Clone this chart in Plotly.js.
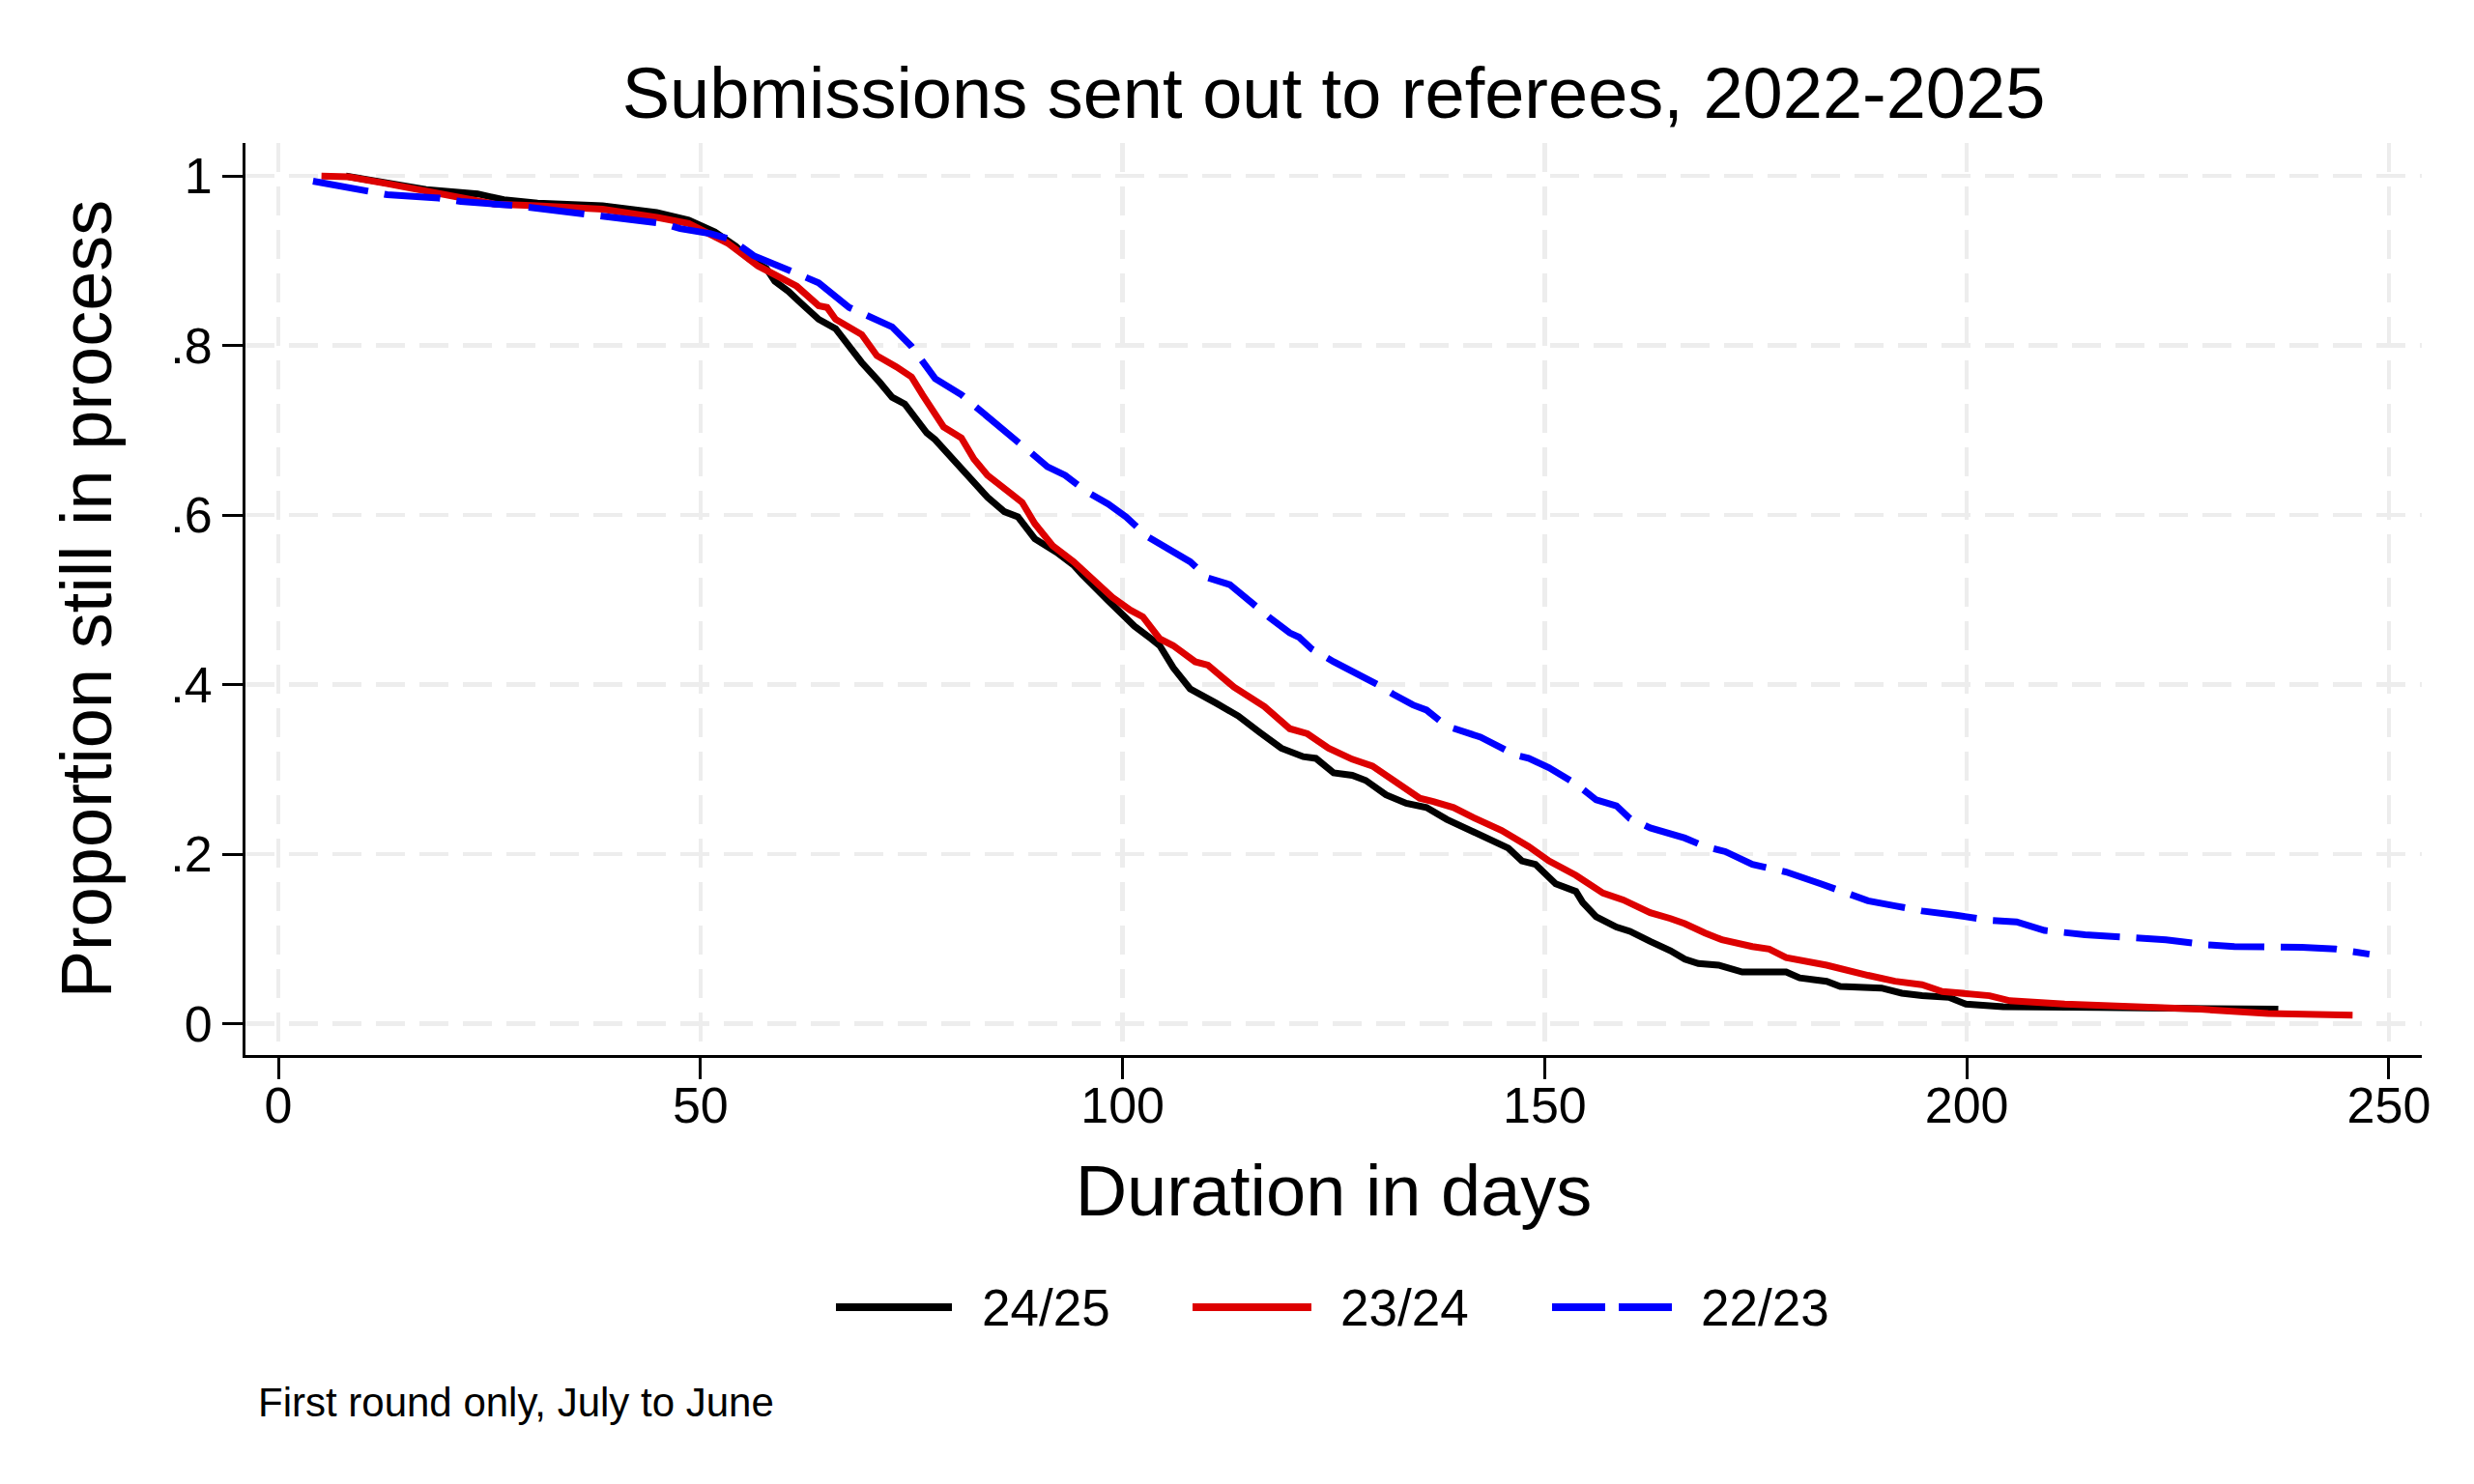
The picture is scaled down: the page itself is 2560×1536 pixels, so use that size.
<!DOCTYPE html>
<html>
<head>
<meta charset="utf-8">
<script src="https://cdn.plot.ly/plotly-3.0.1.min.js"></script>
<style>
  html, body { margin: 0; padding: 0; background: #ffffff; }
  #chart { width: 2560px; height: 1536px; }
</style>
</head>
<body>
<div id="chart"></div>
<script>
// ---- Data ----
const seriesNames = ["24/25", "23/24", "22/23"];

const days2425 = [8, 12.9, 17.5, 23.6, 26.7, 30.7, 38.4, 44.8, 48.6, 51.7, 54.2, 55.8, 57.8, 58.8, 60.4, 61.9, 64, 66, 69.1, 71.2, 72.7, 74.2, 76.8, 77.8, 78.8, 80.9, 84, 86, 87.6, 89.6, 92.2, 94.2, 95.2, 98.3, 101.4, 103.4, 104.4, 106, 108, 111.1, 113.7, 116.2, 118.8, 121.4, 122.9, 125, 127.2, 128.8, 131.2, 133.6, 136, 138.4, 141.6, 144.1, 145.7, 147.3, 148.9, 151.3, 153.7, 154.5, 156.1, 158.5, 160.1, 162.5, 164.9, 166.6, 168.2, 170.6, 173.4, 178.6, 180.2, 183.4, 185, 189.9, 192.3, 194.7, 197.9, 199.9, 204.3, 215.6, 236.9];
const prop2425 = [1.0, 0.992, 0.984, 0.979, 0.972, 0.968, 0.965, 0.957, 0.948, 0.934, 0.917, 0.902, 0.891, 0.876, 0.864, 0.850, 0.831, 0.820, 0.780, 0.757, 0.739, 0.731, 0.697, 0.689, 0.678, 0.657, 0.621, 0.604, 0.598, 0.572, 0.556, 0.541, 0.530, 0.499, 0.469, 0.454, 0.446, 0.420, 0.395, 0.378, 0.363, 0.344, 0.325, 0.315, 0.313, 0.296, 0.293, 0.287, 0.270, 0.260, 0.255, 0.241, 0.226, 0.213, 0.207, 0.192, 0.188, 0.165, 0.156, 0.143, 0.126, 0.114, 0.109, 0.097, 0.086, 0.076, 0.071, 0.069, 0.061, 0.061, 0.054, 0.050, 0.044, 0.042, 0.036, 0.033, 0.031, 0.023, 0.020, 0.019, 0.017];

const days2324 = [5.1, 8.3, 12.9, 16.4, 20.5, 25.6, 30.7, 38.4, 45, 48.6, 53.2, 56.8, 61.4, 64, 65, 66, 69.1, 70.9, 73.2, 75, 76.3, 78.8, 80.9, 82.4, 84, 85.5, 88.1, 89.6, 91.7, 94.2, 96.3, 98.8, 100.9, 102.4, 104.4, 106, 108.6, 110.1, 113.2, 116.8, 119.8, 121.9, 124.4, 127.2, 129.6, 131.2, 133.6, 135.2, 136.8, 139.2, 141.6, 144.9, 148.1, 150.5, 153.7, 156.9, 159.3, 162.5, 164.9, 166.6, 169, 171, 174.6, 176.6, 178.6, 181, 183.4, 188.3, 191.5, 194.7, 197.1, 202.7, 205.1, 211.6, 219.6, 227.7, 235.7, 245.7];
const prop2324 = [1.0, 0.999, 0.991, 0.984, 0.976, 0.967, 0.965, 0.961, 0.951, 0.944, 0.921, 0.894, 0.870, 0.847, 0.845, 0.831, 0.813, 0.788, 0.775, 0.763, 0.742, 0.704, 0.691, 0.666, 0.647, 0.636, 0.615, 0.590, 0.564, 0.545, 0.526, 0.503, 0.488, 0.480, 0.454, 0.446, 0.427, 0.423, 0.397, 0.374, 0.348, 0.342, 0.325, 0.312, 0.304, 0.293, 0.277, 0.266, 0.262, 0.255, 0.243, 0.228, 0.209, 0.192, 0.175, 0.154, 0.146, 0.131, 0.124, 0.118, 0.107, 0.099, 0.091, 0.088, 0.078, 0.074, 0.069, 0.057, 0.050, 0.046, 0.038, 0.033, 0.027, 0.023, 0.021, 0.017, 0.012, 0.010];

const days2223 = [4.1, 10.3, 12.9, 19, 21.6, 28.2, 33.3, 38.4, 42, 45.6, 47.6, 51.2, 53.7, 56.3, 61.4, 64, 67.6, 71.2, 72.7, 75, 77.8, 80.9, 82.4, 84, 88.1, 89.1, 91.1, 93.2, 95.7, 98.3, 100.4, 102.9, 105.5, 108, 110.1, 112.7, 117.3, 119.8, 120.9, 122.4, 125, 127.2, 130.4, 132, 134.4, 136, 138.4, 142.4, 146.5, 148.1, 150.5, 153.7, 156.1, 158.5, 160.1, 162.5, 166.6, 169, 171.4, 174.6, 178.6, 182.7, 185.9, 188.3, 191.5, 194.7, 198.7, 202.7, 205.9, 209.2, 214, 219.6, 223.6, 228.5, 231.7, 239.7, 243.7, 247.7];
const prop2223 = [0.994, 0.984, 0.978, 0.974, 0.970, 0.965, 0.959, 0.953, 0.948, 0.944, 0.938, 0.932, 0.925, 0.906, 0.885, 0.874, 0.845, 0.828, 0.822, 0.799, 0.761, 0.742, 0.729, 0.716, 0.682, 0.674, 0.657, 0.647, 0.628, 0.613, 0.598, 0.575, 0.560, 0.545, 0.526, 0.518, 0.480, 0.461, 0.456, 0.442, 0.427, 0.416, 0.399, 0.389, 0.376, 0.370, 0.351, 0.338, 0.317, 0.313, 0.302, 0.283, 0.264, 0.257, 0.242, 0.231, 0.219, 0.209, 0.203, 0.188, 0.179, 0.165, 0.154, 0.145, 0.139, 0.133, 0.128, 0.122, 0.120, 0.110, 0.105, 0.101, 0.099, 0.093, 0.091, 0.090, 0.088, 0.082];

const xTickVals = [0, 50, 100, 150, 200, 250];
const xTickText = ["0", "50", "100", "150", "200", "250"];
const yTickVals = [0, 0.2, 0.4, 0.6, 0.8, 1];
const yTickText = ["0", ".2", ".4", ".6", ".8", "1"];

const titleText = "Submissions sent out to referees, 2022-2025";
const xTitleText = "Duration in days";
const yTitleText = "Proportion still in process";
const noteText = "First round only, July to June";

// ---- Styles ----
const FONT = "Liberation Sans, Arial, Helvetica, sans-serif";
const colors = ["#000000", "#DD0000", "#0000FF"];
const dashes = ["solid", "solid", "58px,17px"];
const LW = 7;

const xs = [days2425, days2324, days2223];
const ys = [prop2425, prop2324, prop2223];

const traces = seriesNames.map((name, i) => ({
  type: "scatter",
  mode: "lines",
  name: name,
  x: xs[i],
  y: ys[i],
  line: { color: colors[i], width: LW, dash: dashes[i], shape: "linear" },
  showlegend: false,
  hoverinfo: "skip"
}));

// plot area: x 254..2506, y 148..1092  (margins below)
const M = { l: 254, r: 54, t: 148, b: 444 };
const PW = 2560 - M.l - M.r, PH = 1536 - M.t - M.b;
const px = X => (X - M.l) / PW;          // page px -> paper x
const py = Y => (1536 - M.b - Y) / PH;   // page px -> paper y

// custom legend (wide sample lines, like the original)
const legendY = py(1353);
const legendLines = [[865, 985], [1234, 1357], [1606, 1730]];
const legendLabelX = [1014, 1385, 1758];
const shapes = legendLines.map((seg, i) => ({
  type: "line", xref: "paper", yref: "paper",
  x0: px(seg[0]), x1: px(seg[1]), y0: legendY, y1: legendY,
  line: { color: colors[i], width: LW + 1, dash: i === 2 ? "55px,14px" : "solid" }
}));
const annotations = seriesNames.map((name, i) => ({
  text: name, xref: "paper", yref: "paper",
  x: px(legendLabelX[i]), y: legendY, xanchor: "left", yanchor: "middle",
  showarrow: false, font: { family: FONT, size: 53, color: "#000" }
}));
annotations.push({
  text: noteText, xref: "paper", yref: "paper",
  x: px(265), y: py(1452), xanchor: "left", yanchor: "middle",
  showarrow: false, font: { family: FONT, size: 42, color: "#000" }
});

const gridStyle = { showgrid: true, gridcolor: "#EDEDED", gridwidth: 4.5, griddash: "30px,15px" };

const layout = {
  width: 2560, height: 1536,
  paper_bgcolor: "#ffffff", plot_bgcolor: "#ffffff",
  margin: { l: M.l, r: M.r, t: M.t, b: M.b, pad: 0 },
  font: { family: FONT, color: "#000" },
  title: {
    text: titleText, font: { family: FONT, size: 74, color: "#000" },
    x: 0.5, xref: "paper", y: 1 - 96 / 1536, yref: "container",
    xanchor: "center", yanchor: "middle"
  },
  showlegend: false,
  xaxis: Object.assign({
    range: [-3.9, 253.9], tickvals: xTickVals, ticktext: xTickText,
    showline: true, linecolor: "#000", linewidth: 3, mirror: false,
    ticks: "outside", ticklen: 22, tickwidth: 3, tickcolor: "#000",
    ticklabelstandoff: -17,
    tickfont: { family: FONT, size: 52, color: "#000" },
    zeroline: false, automargin: false,
    title: { text: xTitleText, font: { family: FONT, size: 74, color: "#000" }, standoff: 34 }
  }, gridStyle),
  yaxis: Object.assign({
    range: [-0.037, 1.039], tickvals: yTickVals, ticktext: yTickText,
    showline: true, linecolor: "#000", linewidth: 3, mirror: false,
    ticks: "outside", ticklen: 21, tickwidth: 3, tickcolor: "#000",
    tickfont: { family: FONT, size: 52, color: "#000" },
    zeroline: false, automargin: false,
    title: { text: yTitleText, font: { family: FONT, size: 74, color: "#000" }, standoff: 37 }
  }, gridStyle),
  shapes: shapes,
  annotations: annotations
};

Plotly.newPlot("chart", traces, layout, { displayModeBar: false, staticPlot: true });
</script>
</body>
</html>
